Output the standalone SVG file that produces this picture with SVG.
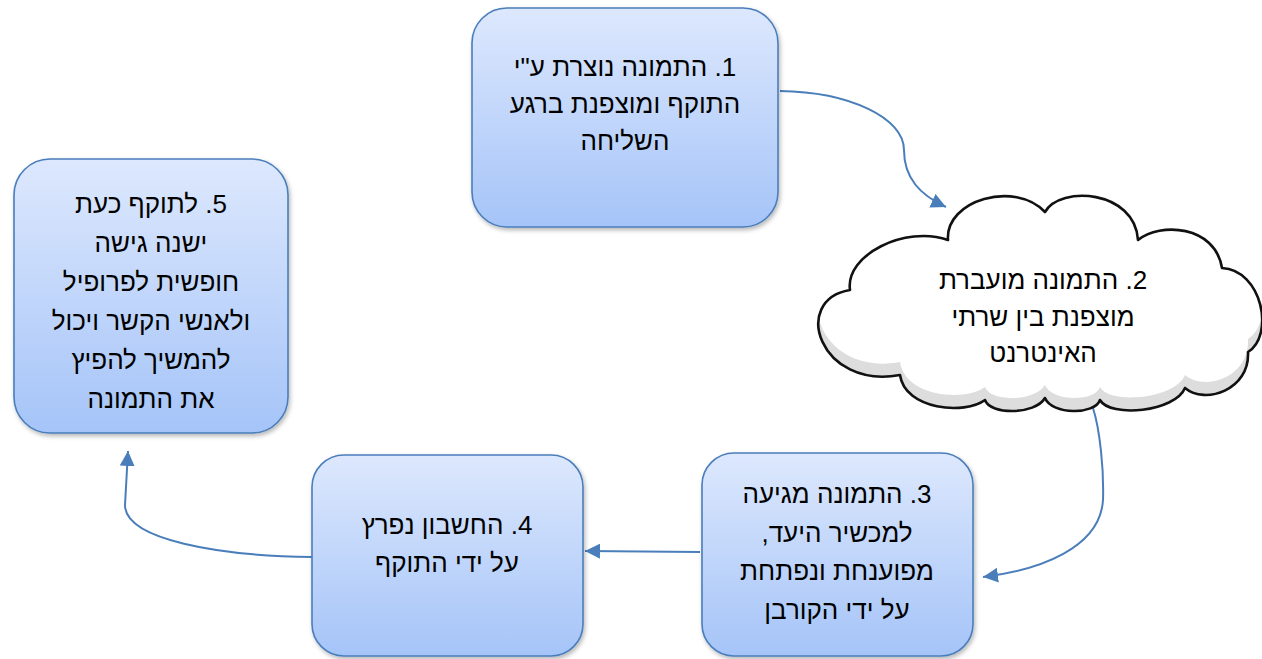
<svg xmlns="http://www.w3.org/2000/svg" width="1262" height="659" viewBox="0 0 1262 659">
  <style>
    .box { stroke: #4a7ebb; stroke-width: 1.6; fill: url(#boxGrad); filter: url(#shadow); }
    .lbl { font-family: "Liberation Sans", Arial, "DejaVu Sans", sans-serif; font-size: 26px; fill: #000; text-anchor: middle; direction: rtl; unicode-bidi: embed; }
    .conn { fill: none; stroke: #4a7ebb; stroke-width: 2; marker-end: url(#arrow); }
  </style>
  <defs>
    <linearGradient id="boxGrad" x1="0" y1="0" x2="0" y2="1">
      <stop offset="0" stop-color="#dde8fd"/>
      <stop offset="1" stop-color="#a5c4f8"/>
    </linearGradient>
    <filter id="shadow" x="-10%" y="-10%" width="125%" height="125%">
      <feDropShadow dx="1.5" dy="2.5" stdDeviation="2" flood-color="#000" flood-opacity="0.28"/>
    </filter>
    <marker id="arrow" viewBox="0 0 10 10" refX="10" refY="5" markerWidth="7.5" markerHeight="7.5" orient="auto" markerUnits="strokeWidth">
      <path d="M0,0 L10,5 L0,10 z" fill="#4a7ebb"/>
    </marker>
    <path id="cloudShape" d="M948,240 C945,200 1015,180 1045,212 C1060,185 1135,190 1138,240 C1160,222 1215,225 1222,268 C1262,270 1275,335 1248,352 C1250,390 1205,405 1185,388 C1175,412 1110,418 1100,400 C1095,415 1052,415 1045,398 C1035,415 990,415 985,400 C965,415 905,410 900,375 C820,390 790,300 850,290 C845,255 905,225 948,240 Z"/>
    <clipPath id="cloudClip">
      <use href="#cloudShape"/>
    </clipPath>
  </defs>

  <g id="connectors">
    <path class="conn" d="M780,91 C850,92 904,118 904,150 C904,178 920,195 946,207"/>
    <path class="conn" d="M1093,408 C1100,430 1104,470 1103,500 C1100,548 1040,570 983,577"/>
    <path class="conn" d="M700,552 L585,551"/>
    <path class="conn" d="M312,557 C220,556 125,540 125,505 L128,451"/>
  </g>

  <g id="node1">
    <rect class="box" x="472" y="8" width="306" height="219" rx="35" ry="35"/>
    <text class="lbl" x="625" y="76">1. התמונה נוצרת ע"י</text>
    <text class="lbl" x="625" y="113">התוקף ומוצפנת ברגע</text>
    <text class="lbl" x="625" y="150">השליחה</text>
  </g>

  <g id="node2">
    <use href="#cloudShape" fill="#dddddd"/>
    <g clip-path="url(#cloudClip)">
      <use href="#cloudShape" fill="#ffffff" transform="translate(0,-13)"/>
    </g>
    <use href="#cloudShape" fill="none" stroke="#111" stroke-width="2.6" stroke-linejoin="round"/>
    <text class="lbl" x="1043" y="289">2. התמונה מועברת</text>
    <text class="lbl" x="1043" y="326">מוצפנת בין שרתי</text>
    <text class="lbl" x="1043" y="362">האינטרנט</text>
  </g>

  <g id="node3">
    <rect class="box" x="702" y="453" width="271" height="203" rx="32" ry="32"/>
    <text class="lbl" x="837" y="503">3. התמונה מגיעה</text>
    <text class="lbl" x="837" y="542">למכשיר היעד,</text>
    <text class="lbl" x="837" y="580">מפוענחת ונפתחת</text>
    <text class="lbl" x="837" y="619">על ידי הקורבן</text>
  </g>

  <g id="node4">
    <rect class="box" x="312" y="455" width="271" height="201" rx="32" ry="32"/>
    <text class="lbl" x="447" y="534">4. החשבון נפרץ</text>
    <text class="lbl" x="447" y="572">על ידי התוקף</text>
  </g>

  <g id="node5">
    <rect class="box" x="14" y="159" width="274" height="274" rx="36" ry="36"/>
    <text class="lbl" x="151" y="213">5. לתוקף כעת</text>
    <text class="lbl" x="151" y="252">ישנה גישה</text>
    <text class="lbl" x="151" y="291">חופשית לפרופיל</text>
    <text class="lbl" x="151" y="330">ולאנשי הקשר ויכול</text>
    <text class="lbl" x="151" y="369">להמשיך להפיץ</text>
    <text class="lbl" x="151" y="408">את התמונה</text>
  </g>
</svg>
